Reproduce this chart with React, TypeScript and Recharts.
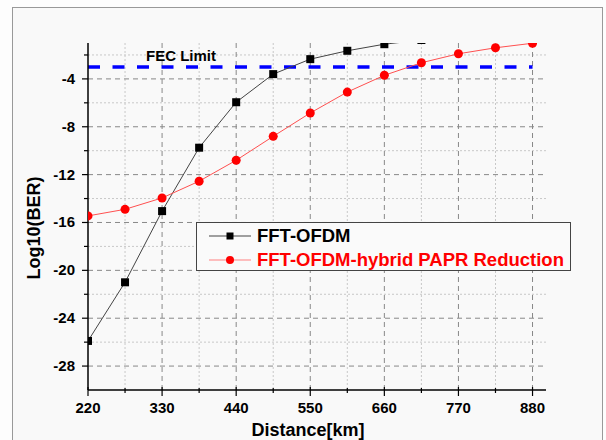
import React from "react";
import {
  LineChart,
  Line,
  XAxis,
  YAxis,
  CartesianGrid,
  ReferenceLine,
  Legend,
} from "recharts";

// distance [km] and log10(BER)
const distances = [220, 275, 330, 385, 440, 495, 550, 605, 660, 715, 770, 825, 880];
const fftOfdm = [-25.9, -21, -15.05, -9.75, -5.95, -3.6, -2.35, -1.65, -1.1, -0.75, null, null, null];
const hybridPapr = [-15.45, -14.9, -13.95, -12.55, -10.8, -8.8, -6.85, -5.1, -3.7, -2.65, -1.9, -1.4, -1.02];
const fecLimit = -3;

const xTicks = [220, 275, 330, 385, 440, 495, 550, 605, 660, 715, 770, 825, 880];
const xMajor = [220, 330, 440, 550, 660, 770, 880];
const yTicks = [-28, -26, -24, -22, -20, -18, -16, -14, -12, -10, -8, -6, -4, -2];
const yMajor = [-28, -24, -20, -16, -12, -8, -4];

const data = distances.map((d, i) => ({
  distance: d,
  ofdm: fftOfdm[i],
  hybrid: hybridPapr[i],
}));

const FONT = "Arial, 'Liberation Sans', sans-serif";

function XTick({ x, y, payload }: any) {
  const major = xMajor.includes(payload.value);
  return (
    <g>
      <line x1={x} x2={x} y1={y - (major ? 3 : 2)} y2={y + (major ? 6 : 3)} stroke="#000" strokeWidth={1.2} />
      {major && (
        <text x={x} y={y + 23} textAnchor="middle" fontFamily={FONT} fontWeight="bold" fontSize={15} fill="#000">
          {payload.value}
        </text>
      )}
    </g>
  );
}

function YTick({ x, y, payload }: any) {
  const major = yMajor.includes(payload.value);
  return (
    <g>
      <line x1={x - (major ? 6 : 4)} x2={x} y1={y} y2={y} stroke="#000" strokeWidth={1.2} />
      {major && (
        <text x={x - 13} y={y + 5} textAnchor="end" fontFamily={FONT} fontWeight="bold" fontSize={15} fill="#000">
          {payload.value}
        </text>
      )}
    </g>
  );
}

const SquareDot = ({ cx, cy }: any) =>
  cx == null || cy == null ? null : <rect x={cx - 4} y={cy - 4} width={8} height={8} fill="#000" />;

const RoundDot = ({ cx, cy }: any) =>
  cx == null || cy == null ? null : <circle cx={cx} cy={cy} r={4.5} fill="#ff0000" />;

function LegendBox() {
  const row = (label: string, color: string, lineColor: string, square: boolean) => (
    <div style={{ display: "flex", alignItems: "center", height: 24 }}>
      <svg width={60} height={14} style={{ flexShrink: 0 }}>
        <line x1={12} x2={54} y1={7} y2={7} stroke={lineColor} strokeWidth={1} />
        {square ? <rect x={29.5} y={3.5} width={7} height={7} fill="#000" /> : <circle cx={33} cy={7} r={4} fill="#ff0000" />}
      </svg>
      <span style={{ color, fontFamily: FONT, fontWeight: "bold", fontSize: 18.5, whiteSpace: "nowrap" }}>{label}</span>
    </div>
  );
  return (
    <div
      style={{
        width: 375,
        height: 49,
        boxSizing: "border-box",
        border: "1px solid #444",
        background: "#fafafa",
        paddingTop: 1,
      }}
    >
      {row("FFT-OFDM", "#000", "#444", true)}
      {row("FFT-OFDM-hybrid PAPR Reduction", "#ff0000", "#ff8080", false)}
    </div>
  );
}

export default function App() {
  return (
    <div
      style={{
        position: "absolute",
        left: 0,
        top: 0,
        width: 606,
        height: 440,
        overflow: "hidden",
        background: "#fdfdfd",
      }}
    >
      <div
        style={{
          position: "absolute",
          left: 12,
          top: 7,
          width: 589,
          height: 460,
          border: "1.5px solid #999",
          background: "#f9f9f9",
        }}
      />
      <div style={{ position: "absolute", left: 0, top: 0 }}>
        <LineChart width={606} height={440} data={data} margin={{ top: 43, right: 60, bottom: 20, left: 28 }}>
          <CartesianGrid
            horizontalValues={[-26, -22, -18, -14, -10, -6, -2]}
            verticalValues={[275, 385, 495, 605, 715, 825]}
            stroke="#c8c8c8"
            strokeDasharray="2 2"
          />
          <CartesianGrid
            horizontalValues={[-28, -24, -20, -16, -12, -8, -4]}
            verticalValues={[330, 440, 550, 660, 770, 880]}
            stroke="#888"
            strokeDasharray="5 4"
          />
          <XAxis
            dataKey="distance"
            type="number"
            domain={[220, 900]}
            ticks={xTicks}
            interval={0}
            height={30}
            tickSize={0}
            tickMargin={0}
            tickLine={false}
            tick={<XTick />}
            axisLine={{ stroke: "#000", strokeWidth: 1.5 }}
            allowDataOverflow
            label={{
              content: ({ viewBox }: any) => (
                <text x={viewBox.x + 220} y={viewBox.y + 46} textAnchor="middle" fontFamily={FONT} fontWeight="bold" fontSize={18} fill="#000">
                  Distance[km]
                </text>
              ),
            }}
          />
          <YAxis
            type="number"
            domain={[-30, -1]}
            ticks={yTicks}
            interval={0}
            width={60}
            tickSize={0}
            tickMargin={0}
            tickLine={false}
            tick={<YTick />}
            axisLine={{ stroke: "#000", strokeWidth: 1.5 }}
            allowDataOverflow
            label={{
              content: () => (
                <text
                  x={40}
                  y={228}
                  transform="rotate(-90 40 228)"
                  textAnchor="middle"
                  fontFamily={FONT}
                  fontWeight="bold"
                  fontSize={18}
                  fill="#000"
                >
                  Log10(BER)
                </text>
              ),
            }}
          />
          <ReferenceLine
            segment={[
              { x: 220, y: fecLimit },
              { x: 880, y: fecLimit },
            ]}
            stroke="#0000ff"
            strokeWidth={3.5}
            strokeDasharray="12 12.5"
            label={{
              content: ({ viewBox }: any) => (
                <text x={viewBox.x + 58} y={viewBox.y - 6} fontFamily={FONT} fontWeight="bold" fontSize={15} fill="#000">
                  FEC Limit
                </text>
              ),
            }}
          />
          <Line
            dataKey="ofdm"
            name="FFT-OFDM"
            stroke="#444"
            strokeWidth={1}
            dot={<SquareDot />}
            activeDot={false}
            isAnimationActive={false}
          />
          <Line
            dataKey="hybrid"
            name="FFT-OFDM-hybrid PAPR Reduction"
            stroke="#ff5050"
            strokeWidth={1}
            dot={<RoundDot />}
            activeDot={false}
            isAnimationActive={false}
          />
          <Legend
            layout="vertical"
            align="center"
            verticalAlign="middle"
            content={() => <LegendBox />}
            wrapperStyle={{ left: 196, top: 222, width: 375, height: 49 }}
          />
        </LineChart>
      </div>
    </div>
  );
}
